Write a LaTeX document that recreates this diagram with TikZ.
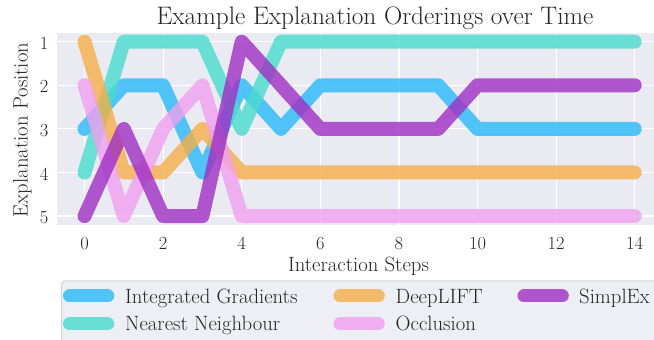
\documentclass[tikz,border=0pt]{standalone}
\usepackage{fontspec}
\begin{document}
\begin{tikzpicture}[x=1pt,y=1pt,
  txt/.style={text=textgray, inner sep=0pt, font=\fontsize{18.5}{22}\selectfont},
  lbl/.style={text=textgray, inner sep=0pt, font=\fontsize{20.7}{24}\selectfont},
  gridline/.style={white, line width=1.2pt},
  series/.style={line width=14pt, line cap=round, line join=round, draw opacity=0.8},
  keyline/.style={line width=13pt, line cap=round, draw opacity=0.8}]
\definecolor{textgray}{HTML}{262626}
\definecolor{axbg}{HTML}{EAEAF2}
\definecolor{legbg}{HTML}{EEEEF5}
\definecolor{legedge}{HTML}{D6D6D6}
\definecolor{igblue}{RGB}{41,185,249}
\definecolor{nnteal}{RGB}{72,219,205}
\definecolor{dlorange}{RGB}{244,174,72}
\definecolor{occpink}{RGB}{241,159,240}
\definecolor{sxpurple}{RGB}{159,47,195}

\useasboundingbox (0,0) rectangle (654,340);
\clip (0,0) rectangle (654,340);
\fill[white] (0,0) rectangle (654,340);

% axes background
\fill[axbg] (57,115) rectangle (662,307);

% data area: x = step, y = rank (1 on top)
\begin{scope}[x=39.3pt, y=-43.6pt, shift={(84.5pt,341.9pt)}]
  \foreach \s in {0,2,...,14} \draw[gridline] (\s,0.8) -- (\s,5.2);
  \foreach \r in {1,...,5} \draw[gridline] (-0.7,\r) -- (14.9,\r);

  % Integrated Gradients
  \draw[series, igblue] (0,3) -- (1,2) -- (2,2) -- (3,4) -- (4,2) -- (5,3) -- (6,2)
    -- (9,2) -- (10,3) -- (14,3);
  % Nearest Neighbour
  \draw[series, nnteal] (0,4) -- (1,1) -- (3,1) -- (4,3) -- (5,1) -- (14,1);
  % DeepLIFT
  \draw[series, dlorange] (0,1) -- (1,4) -- (2,4) -- (3,3) -- (4,4) -- (14,4);
  % Occlusion
  \draw[series, occpink] (0,2) -- (1,5) -- (2,3) -- (3,2) -- (4,5) -- (14,5);
  % SimplEx
  \draw[series, sxpurple] (0,5) -- (1,3) -- (2,5) -- (3,5) -- (4,1) -- (6,3)
    -- (9,3) -- (10,2) -- (14,2);

  % tick labels
  \foreach \s in {0,2,...,14}
    \node[txt, anchor=base] (xt\s) at (\s,5.2) [yshift=-24.5pt] {\s};
  \foreach \r in {1,...,5}
    \node[txt, anchor=east] (yt\r) at (-0.7,\r) [xshift=-8.5pt, yshift=-1.5pt] {\r};
\end{scope}

% axis labels and title
\node[lbl, anchor=base] (xlabel) at (358.5,68) {Interaction Steps};
\node[lbl, anchor=base, rotate=90] (ylabel) at (27.5,210) {Explanation Position};
\node[text=textgray, inner sep=0pt, anchor=base, font=\fontsize{25.3}{29}\selectfont]
  (title) at (375,315) {Example Explanation Orderings over Time};

% legend
\draw[legedge, fill=legbg, rounded corners=3pt, line width=1pt] (61.7,59) rectangle (720,-30);
\draw[keyline, igblue]   (69.5,44) -- (107.8,44);
\draw[keyline, nnteal]   (69.5,16) -- (107.8,16);
\draw[keyline, dlorange] (340,44) -- (378.3,44);
\draw[keyline, occpink]  (340,16) -- (378.3,16);
\draw[keyline, sxpurple] (524,44) -- (562.3,44);
\node[lbl, anchor=base west] (k1) at (125,36.7) {Integrated Gradients};
\node[lbl, anchor=base west] (k2) at (125,9) {Nearest Neighbour};
\node[lbl, anchor=base west] (k3) at (395.5,36.7) {DeepLIFT};
\node[lbl, anchor=base west] (k4) at (395.5,9) {Occlusion};
\node[lbl, anchor=base west] (k5) at (579,36.7) {SimplEx};
\end{tikzpicture}
\end{document}
